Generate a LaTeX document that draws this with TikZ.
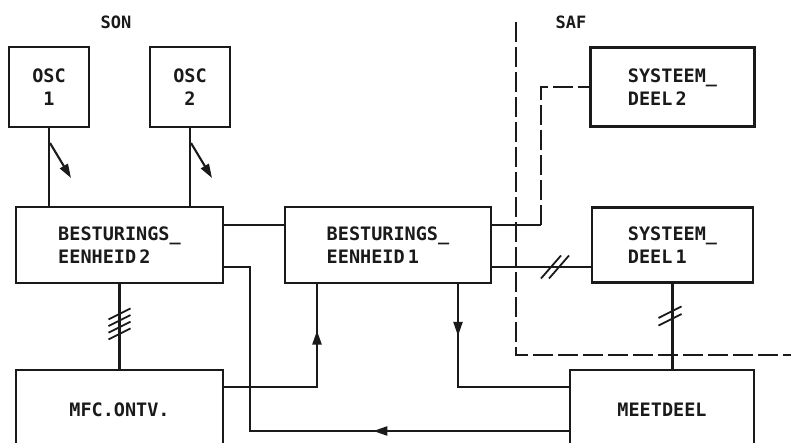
\documentclass[tikz,border=0pt]{standalone}
\usepackage{fontspec}
\setmonofont{DejaVu Sans Mono}
\usepackage{tikz}
\usetikzlibrary{arrows.meta,positioning,calc,decorations.markings}
\definecolor{ink}{HTML}{1A1A1A}
\definecolor{paper}{HTML}{FFFFFF}

\begin{document}
\begin{tikzpicture}[
 x=1pt,y=-1pt,
 font=\ttfamily\bfseries\fontsize{18.5}{23}\selectfont,
 blk/.style={draw=ink,line width=2.2pt,inner sep=0pt,outer sep=0pt,align=left,text=ink},
 ln/.style={draw=ink,line width=2.1pt},
 dsh/.style={ln,dash pattern=on 20pt off 5pt},
 tip/.style={-{Triangle[length=14pt,width=9pt]}},
 midtip/.style={postaction={decorate},decoration={markings,mark=at position #1 with {\arrow{Triangle[length=14pt,width=9pt]}}}},
 lbl/.style={text=ink,font=\ttfamily\bfseries\fontsize{17}{20}\selectfont}
]
\useasboundingbox[fill=paper] (0,0) rectangle (791,443);
% blocks
\node[blk,minimum width=207pt,minimum height=76pt] (bes2) at (119.5,245) {BESTURINGS\_\\EENHEID\,2};
\node[blk,minimum width=206pt,minimum height=76pt,right=62pt of bes2] (bes1) {BESTURINGS\_\\EENHEID\,1};
\node[blk,minimum width=161pt,minimum height=75pt,right=101pt of bes1] (sys1) {SYSTEEM\_\\DEEL\,1};
\node[blk,minimum width=164pt,minimum height=79pt,above=81pt of sys1] (sys2) {SYSTEEM\_\\DEEL\,2};
\node[blk,minimum width=80pt,minimum height=80pt,align=center] (osca) at (49,87) {OSC\\1};
\node[blk,minimum width=80pt,minimum height=80pt,align=center,right=61pt of osca] (oscb) {OSC\\2};
\node[blk,minimum width=207pt,minimum height=80pt,below=87pt of bes2] (mfc) {MFC.ONTV.};
\node[blk,minimum width=184pt,minimum height=80pt,right=347pt of mfc] (meet) {MEETDEEL};
\node[lbl] (son) at (116,22) {SON};
\node[lbl] (saf) at (571,22) {SAF};

% oscillators
\draw[ln] (osca.south) -- (osca.south |- bes2.north);
\draw[ln] (oscb.south) -- (oscb.south |- bes2.north);
\coordinate (oa1) at ($(osca.south)+(1,16)$);
\coordinate (oa2) at ($(osca.south)+(22,51)$);
\coordinate (ob1) at ($(oscb.south)+(1,16)$);
\coordinate (ob2) at ($(oscb.south)+(22,51)$);
\draw[ln,tip] (oa1) -- (oa2);
\draw[ln,tip] (ob1) -- (ob2);

% control units
\draw[ln] ($(bes2.east)+(0,-20)$) -- ($(bes1.west)+(0,-20)$);
\draw[ln] (bes2) -- (mfc);
\path (bes2.south) -- (mfc.north) coordinate[pos=0.47] (bus);
\foreach \d in {-10,-3.3,3.3,10}
  \draw[ln,line width=1.8pt] ($(bus)+(-11,\d+5.5)$) -- ($(bus)+(11,\d-5.5)$);

\coordinate (jmfc) at (317,387);
\draw[ln,midtip=0.76] (mfc.east |- jmfc) -- (jmfc) -- (jmfc |- bes1.south);
\coordinate (jmeet) at (458,387);
\draw[ln,midtip=0.245] (jmeet |- bes1.south) -- (jmeet) -- (jmeet -| meet.west);
\coordinate (jret) at (250,431);
\coordinate (jret2) at (250,267);
\draw[ln,midtip=0.385] (jret -| meet.west) -- (jret) -- (jret2) -- (jret2 -| bes2.east);

% system parts
\draw[ln] ($(bes1.east)+(0,22)$) coordinate (c1) -- (c1 -| sys1.west);
\coordinate (dsl) at (555,267);
\foreach \d in {-4,4}
  \draw[ln,line width=1.8pt] ($(dsl)+(\d-10,11.5)$) -- ($(dsl)+(\d+10,-11.5)$);
\draw[ln] (sys1.south) -- (sys1.south |- meet.north);
\coordinate (vsl) at (670,316);
\foreach \d in {-3.8,3.8}
  \draw[ln,line width=1.8pt] ($(vsl)+(-11.5,\d+5.8)$) -- ($(vsl)+(11.5,\d-5.8)$);

\coordinate (jsys) at (541,225);
\draw[ln] ($(bes1.east)+(0,-20)$) -- (jsys);
\draw[dsh] (jsys) -- (jsys |- sys2.west) -- (sys2.west);

% SAF boundary
\coordinate (saft) at (516,22);
\coordinate (safc) at (516,355);
\coordinate (safe) at (800,355);
\draw[dsh] (saft) -- (safc) -- (safe);
\end{tikzpicture}
\end{document}
